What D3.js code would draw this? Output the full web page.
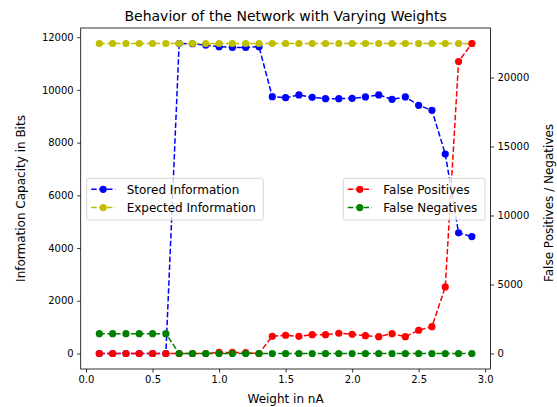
<!DOCTYPE html>
<html><head><meta charset="utf-8">
<script src="https://cdn.jsdelivr.net/npm/d3@7"></script>
<style>body{margin:0;background:#fff}svg{display:block;font-family:"DejaVu Sans",sans-serif}</style>
</head><body><svg id="c" width="557" height="407"></svg>
<script>
const weights = [0.1,0.2,0.3,0.4,0.5,0.6,0.7,0.8,0.9,1.0,1.1,1.2,1.3,1.4,1.5,1.6,1.7,1.8,1.9,2.0,2.1,2.2,2.3,2.4,2.5,2.6,2.7,2.8,2.9];
const storedInfo = [0,0,0,0,0,0,11760,11750,11700,11640,11610,11610,11640,9744,9706,9808,9718,9668,9668,9680,9733,9808,9642,9733,9415,9225,7566,4577,4437];
const expectedInfo = weights.map(()=>11760);
const falsePositives = [0,0,0,0,0,0,0,0,0,80,80,60,0,1248,1321,1248,1365,1365,1466,1393,1292,1219,1437,1219,1684,1945,4826,21157,22463];
const falseNegatives = [1437,1437,1437,1437,1437,1437,0,0,0,0,0,0,0,0,0,0,0,0,0,0,0,0,0,0,0,0,0,0,0];
const xTicks = [0.0,0.5,1.0,1.5,2.0,2.5,3.0];
const yLeftTicks = [0,2000,4000,6000,8000,10000,12000];
const yRightTicks = [0,5000,10000,15000,20000];

const svg = d3.select("#c");
const L=80.7, R=490.5, T=28, B=369;
const x = d3.scaleLinear().domain([-0.04,3.04]).range([L,R]);
const yL = d3.scaleLinear().domain([-588,12348]).range([B,T]);
const yR = d3.scaleLinear().domain([-1123,23586]).range([B,T]);

svg.append("text").attr("x",(L+R)/2).attr("y",20.5).attr("text-anchor","middle").attr("font-size",14).text("Behavior of the Network with Varying Weights");

function axis(g, a){ g.call(a); g.selectAll("text").attr("font-size",10).attr("fill","#000").attr("font-family","DejaVu Sans"); g.select(".domain").remove(); g.selectAll("line").attr("stroke","#000").attr("stroke-width",0.8); }
svg.append("g").attr("transform",`translate(0,${B})`).call(g=>axis(g,d3.axisBottom(x).tickValues(xTicks).tickFormat(d3.format(".1f")).tickSize(3.5).tickPadding(3.5)));
svg.append("g").attr("transform",`translate(${L},0)`).call(g=>axis(g,d3.axisLeft(yL).tickValues(yLeftTicks).tickFormat(d=>d).tickSize(3.5).tickPadding(3.5)));
svg.append("g").attr("transform",`translate(${R},0)`).call(g=>axis(g,d3.axisRight(yR).tickValues(yRightTicks).tickFormat(d=>d).tickSize(3.5).tickPadding(3.5)));

const clipG = svg.append("g");
function series(vals, scale, color){
  const pts = weights.map((w,i)=>[x(w), scale(vals[i])]);
  clipG.append("path").attr("d", d3.line()(pts)).attr("fill","none").attr("stroke",color).attr("stroke-width",1.5).attr("stroke-dasharray","5.5,2.4");
  clipG.selectAll(null).data(pts).enter().append("circle").attr("cx",d=>d[0]).attr("cy",d=>d[1]).attr("r",3.6).attr("fill",color);
}
series(storedInfo, yL, "#0000ff");
series(expectedInfo, yL, "#bfbf00");

function legend(x0,y0,w,items){
  const g = svg.append("g");
  g.append("rect").attr("x",x0).attr("y",y0).attr("width",w).attr("height",41.7).attr("rx",2).attr("fill","#fff").attr("fill-opacity",0.8).attr("stroke","#cccccc").attr("stroke-width",0.8);
  items.forEach((it,i)=>{
    const cy = y0+11+i*18.3;
    g.append("line").attr("x1",x0+4.5).attr("x2",x0+28.5).attr("y1",cy).attr("y2",cy).attr("stroke",it.c).attr("stroke-width",1.5).attr("stroke-dasharray","5.5,2.4");
    g.append("circle").attr("cx",x0+16.5).attr("cy",cy).attr("r",3.6).attr("fill",it.c);
    g.append("text").attr("x",x0+40).attr("y",cy+4.3).attr("font-size",12).text(it.t);
  });
}
legend(86.7,178.3,176.6,[{t:"Stored Information",c:"#0000ff"},{t:"Expected Information",c:"#bfbf00"}]);

series(falsePositives, yR, "#ff0000");
series(falseNegatives, yR, "#008000");
legend(343.3,178.3,141.7,[{t:"False Positives",c:"#ff0000"},{t:"False Negatives",c:"#008000"}]);

svg.append("rect").attr("x",L).attr("y",T).attr("width",R-L).attr("height",B-T).attr("fill","none").attr("stroke","#000").attr("stroke-width",0.8);

svg.append("text").attr("x",(L+R)/2).attr("y",403).attr("text-anchor","middle").attr("font-size",12).text("Weight in nA");
svg.append("text").attr("transform",`translate(25,${(T+B)/2}) rotate(-90)`).attr("text-anchor","middle").attr("font-size",12).text("Information Capacity in Bits");
svg.append("text").attr("transform",`translate(553,203) rotate(-90)`).attr("text-anchor","middle").attr("font-size",12).text("False Positives / Negatives");
</script></body></html>
